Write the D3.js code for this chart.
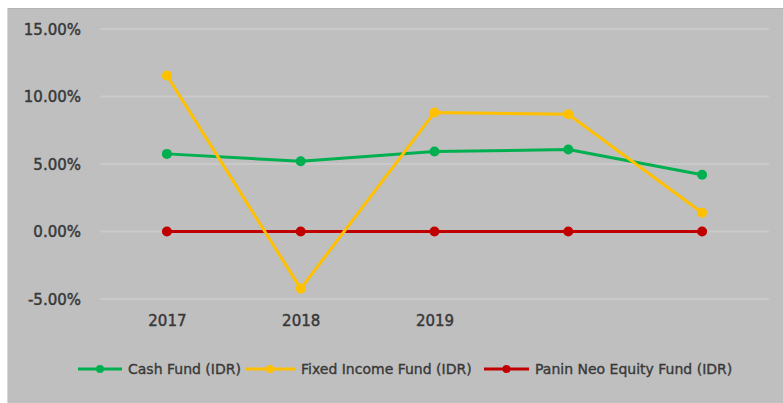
<!DOCTYPE html>
<html><head><meta charset="utf-8">
<script src="https://cdn.jsdelivr.net/npm/d3@7"></script>
<style>html,body{margin:0;padding:0;background:#fff;}svg{display:block;}</style>
</head><body>
<svg id="c" width="783" height="403"></svg>
<script>
const categories = ["2017", "2018", "2019", "", ""];
const cashFund = [5.75, 5.2, 5.92, 6.07, 4.21];
const fixedIncome = [11.55, -4.23, 8.82, 8.69, 1.39];
const paninEquity = [0, 0, 0, 0, 0];
const yTicks = [-5, 0, 5, 10, 15];
const seriesNames = ["Cash Fund (IDR)", "Fixed Income Fund (IDR)", "Panin Neo Equity Fund (IDR)"];
const seriesColors = ["#00b050", "#ffc000", "#c00000"];

const series = [
  {name: seriesNames[0], color: seriesColors[0], values: cashFund},
  {name: seriesNames[1], color: seriesColors[1], values: fixedIncome},
  {name: seriesNames[2], color: seriesColors[2], values: paninEquity}
];

const svg = d3.select("#c");
svg.append("rect").attr("x", 7).attr("y", 8).attr("width", 776).attr("height", 395)
  .attr("fill", "#bfbfbf");
svg.append("line").attr("x1", 7).attr("x2", 783).attr("y1", 8.5).attr("y2", 8.5)
  .attr("stroke", "#b3b3b3").attr("stroke-width", 1);
svg.append("line").attr("x1", 7.5).attr("x2", 7.5).attr("y1", 8).attr("y2", 403)
  .attr("stroke", "#d6d6d6").attr("stroke-width", 1);

const idx = categories.map((d, i) => i);
const x = d3.scalePoint().domain(idx).range([100, 769]).padding(0.5);
const y = d3.scaleLinear().domain([-5, 15]).range([299, 29]);

// gridlines
svg.append("g").selectAll("line").data(yTicks).join("line")
  .attr("x1", 100).attr("x2", 769)
  .attr("y1", d => y(d)).attr("y2", d => y(d))
  .attr("stroke", "#cacaca").attr("stroke-width", 2);

const textStyle = sel => sel.attr("font-family", "DejaVu Sans").attr("fill", "#383838")
  .attr("stroke", "#383838").attr("stroke-width", 0.45);

// y axis
const yAxis = d3.axisLeft(y).tickValues(yTicks).tickSize(0).tickPadding(0)
  .tickFormat(d => d.toFixed(2) + "%");
const gy = svg.append("g").attr("transform", "translate(81,0)").call(yAxis);
gy.select(".domain").remove();
gy.selectAll("text").call(textStyle).attr("font-size", 15).attr("dy", "0.36em");

// x axis
const xAxis = d3.axisBottom(x).tickSize(0).tickPadding(0).tickFormat(i => categories[i]);
const gx = svg.append("g").attr("transform", "translate(0,315)").call(xAxis);
gx.select(".domain").remove();
gx.selectAll("text").call(textStyle).attr("font-size", 15).attr("dy", "0.71em");

// lines
const line = d3.line().x((d, i) => x(i)).y(d => y(d));
const sorder = [series[2], series[0], series[1]];
sorder.forEach(s => {
  svg.append("path").datum(s.values).attr("d", line)
    .attr("fill", "none").attr("stroke", s.color).attr("stroke-width", 3)
    .attr("stroke-linejoin", "round");
  svg.append("g").selectAll("circle").data(s.values).join("circle")
    .attr("cx", (d, i) => x(i)).attr("cy", d => y(d)).attr("r", 5)
    .attr("fill", s.color);
});

// legend
const legX = [78, 245, 484];
const legW = [44, 50, 45];
const lg = svg.append("g");
series.forEach((s, i) => {
  const g = lg.append("g").attr("transform", `translate(${legX[i]},369)`);
  g.append("line").attr("x1", 0).attr("x2", legW[i]).attr("y1", 0).attr("y2", 0)
    .attr("stroke", s.color).attr("stroke-width", 3);
  g.append("circle").attr("cx", legW[i] / 2).attr("cy", 0).attr("r", 4).attr("fill", s.color);
  g.append("text").attr("x", legW[i] + 6).attr("y", 0).attr("dy", "0.35em")
    .call(textStyle).attr("stroke-width", 0.35).attr("font-size", 14)
    .text(s.name);
});
</script>
</body></html>
